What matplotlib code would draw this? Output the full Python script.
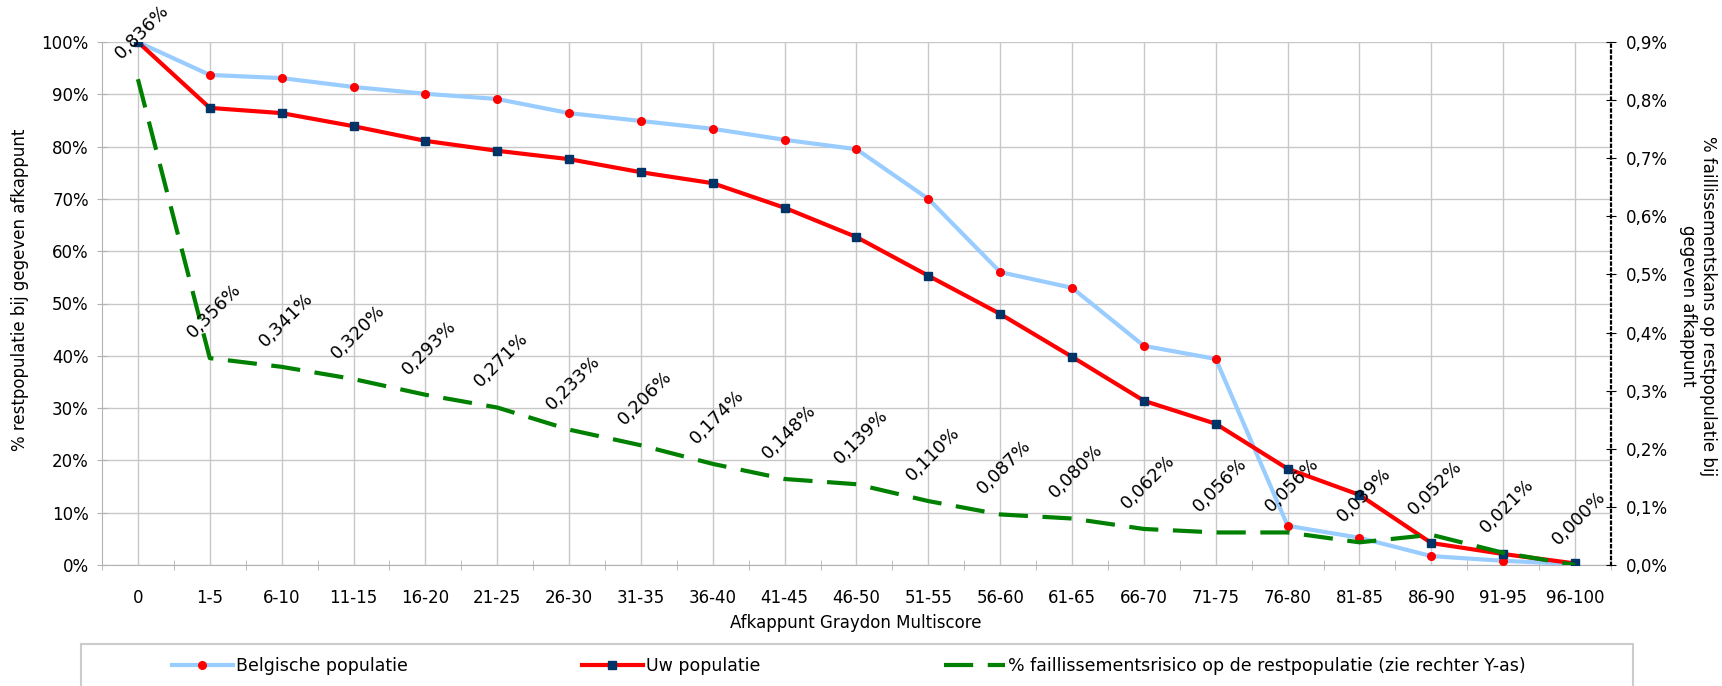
import numpy as np
import matplotlib
matplotlib.use("Agg")
from matplotlib import pyplot as plt
from matplotlib.ticker import FuncFormatter
from matplotlib.patches import Rectangle

plt.rcParams["font.family"] = "DejaVu Sans"
plt.rcParams["font.size"] = 12

categories = ["0", "1-5", "6-10", "11-15", "16-20", "21-25", "26-30", "31-35", "36-40",
              "41-45", "46-50", "51-55", "56-60", "61-65", "66-70", "71-75", "76-80",
              "81-85", "86-90", "91-95", "96-100"]
# % restpopulatie (left axis)
belgische = [100, 93.7, 93.1, 91.4, 90.1, 89.1, 86.4, 84.9, 83.4, 81.3, 79.5,
             70.0, 56.0, 53.0, 41.9, 39.4, 7.5, 5.2, 1.7, 0.8, 0.2]
uw = [100, 87.4, 86.4, 83.9, 81.1, 79.2, 77.6, 75.1, 73.0, 68.3, 62.7,
      55.3, 48.0, 39.8, 31.4, 27.0, 18.4, 13.4, 4.2, 2.1, 0.3]
# % faillissementsrisico (right axis)
risico = [0.836, 0.356, 0.341, 0.320, 0.293, 0.271, 0.233, 0.206, 0.174, 0.148, 0.139,
          0.110, 0.087, 0.080, 0.062, 0.056, 0.056, 0.039, 0.052, 0.021, 0.000]

W, H = 1722, 686
fig = plt.figure(figsize=(W / 100, H / 100), dpi=100)
ax = fig.add_axes([102 / W, 1 - 565 / H, (1611 - 102) / W, (565 - 42) / H])
x = np.arange(len(categories))

l1, = ax.plot(x, belgische, color="#99ccff", lw=3, marker="o", ms=5.5,
              mfc="#ff0000", mec="#ff0000", zorder=3, label="Belgische populatie")
l2, = ax.plot(x, uw, color="#ff0000", lw=3, marker="s", ms=5.5,
              mfc="#003366", mec="#003366", zorder=4, label="Uw populatie")
ax.set_xlim(-0.5, len(categories) - 0.5)
ax.set_ylim(0, 100)
ax.set_yticks(np.arange(0, 101, 10))
ax.yaxis.set_major_formatter(FuncFormatter(lambda v, p: f"{v:.0f}%"))
ax.set_xticks(x, categories)
ax.set_xticks(np.arange(-0.5, len(categories), 1), minor=True)
ax.tick_params(axis="x", which="major", length=0, pad=17)
ax.tick_params(axis="x", which="minor", length=7, direction="inout", color="#b3b3b3")
ax.tick_params(axis="y", length=7, direction="inout", color="#b3b3b3", pad=6)
ax.grid(True, which="major", color="#c8c8c8", lw=1)
ax.set_axisbelow(True)
for s in ["top", "right"]:
    ax.spines[s].set_visible(False)
for s in ["left", "bottom"]:
    ax.spines[s].set_color("#b3b3b3")

ax2 = ax.twinx()
l3, = ax2.plot(x, risico, color="#008000", lw=3, dashes=(7, 3.5), zorder=5,
               label="% faillissementsrisico op de restpopulatie (zie rechter Y-as)")
ax2.set_ylim(0, 0.9)
ax2.set_yticks(np.arange(0, 0.91, 0.1))
ax2.yaxis.set_major_formatter(FuncFormatter(lambda v, p: f"{v:.1f}%".replace(".", ",")))
ax2.tick_params(axis="y", length=7, direction="inout", color="black", pad=7)
for s in ["top", "left", "bottom"]:
    ax2.spines[s].set_visible(False)
ax2.spines["right"].set_linestyle(":")
ax2.spines["right"].set_linewidth(1.6)

for xi, v in zip(x, risico):
    ax2.annotate(f"{v:.3f}".replace(".", ",") + "%", (xi, v), xytext=(3, 34),
                 textcoords="offset points", ha="center", va="center",
                 rotation=45, fontsize=13, zorder=10, annotation_clip=False)

fig.text(856 / W, 1 - 623 / H, "Afkappunt Graydon Multiscore", ha="center", va="center")
fig.text(20 / W, 1 - 290 / H, "% restpopulatie bij gegeven afkappunt",
         ha="center", va="center", rotation=90)
fig.text(1698 / W, 1 - 306 / H,
         "% faillissementskans op restpopulatie bij\ngegeven afkappunt",
         ha="center", va="center", rotation=270, multialignment="center", linespacing=1.1)

# legend entries placed one by one
for line, x0 in zip([l1, l2, l3], [172, 582, 944]):
    fig.legend([line], [line.get_label()], loc="center left",
               bbox_to_anchor=(x0 / W, 1 - 666 / H), frameon=False, borderpad=0,
               borderaxespad=0, handlelength=3.5, handletextpad=0.2, fontsize=12.5)
fig.add_artist(Rectangle((81 / W, -0.02), (1633 - 81) / W, 0.02 + 1 - 644 / H,
                         transform=fig.transFigure, fill=False,
                         edgecolor="#cccccc", lw=1.5))

fig.savefig("out.png", dpi=100)
